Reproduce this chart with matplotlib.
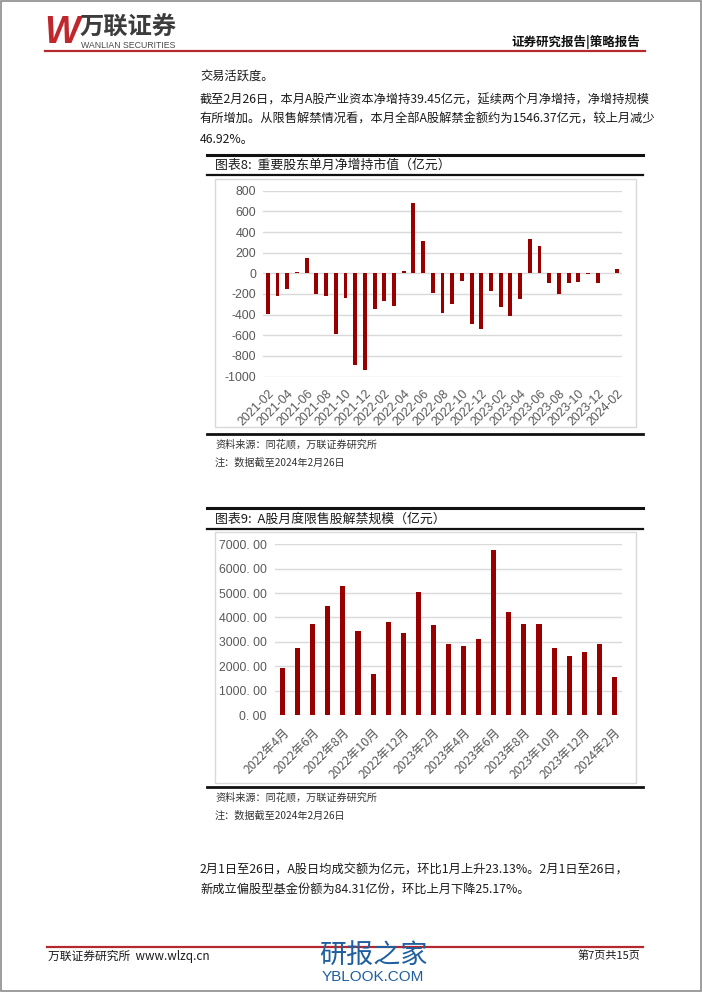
import matplotlib.pyplot as plt
from matplotlib.patches import Rectangle
from matplotlib.lines import Line2D

plt.rcParams['font.family'] = ['Noto Sans CJK SC', 'DejaVu Sans']

# 图表8: 重要股东单月净增持市值（亿元）
holder_months = [
    "2021-02", "2021-03", "2021-04", "2021-05", "2021-06", "2021-07", "2021-08",
    "2021-09", "2021-10", "2021-11", "2021-12", "2022-01", "2022-02", "2022-03",
    "2022-04", "2022-05", "2022-06", "2022-07", "2022-08", "2022-09", "2022-10",
    "2022-11", "2022-12", "2023-01", "2023-02", "2023-03", "2023-04", "2023-05",
    "2023-06", "2023-07", "2023-08", "2023-09", "2023-10", "2023-11", "2023-12",
    "2024-01", "2024-02",
]
holder_values = [
    -390, -220, -150, 15, 150, -200, -220, -590, -240, -890, -940, -350, -270,
    -320, 20, 680, 315, -195, -380, -300, -70, -490, -540, -170, -330, -410,
    -250, 335, 260, -95, -200, -95, -85, -2, -95, 5, 39.45,
]
holder_yticks = [-1000, -800, -600, -400, -200, 0, 200, 400, 600, 800]

# 图表9: A股月度限售股解禁规模（亿元）
unlock_months = [
    "2022年4月", "2022年5月", "2022年6月", "2022年7月", "2022年8月", "2022年9月",
    "2022年10月", "2022年11月", "2022年12月", "2023年1月", "2023年2月", "2023年3月",
    "2023年4月", "2023年5月", "2023年6月", "2023年7月", "2023年8月", "2023年9月",
    "2023年10月", "2023年11月", "2023年12月", "2024年1月", "2024年2月",
]
unlock_values = [
    1930, 2730, 3750, 4460, 5290, 3430, 1680, 3820, 3370, 5050, 3700, 2930,
    2840, 3100, 6750, 4220, 3740, 3720, 2740, 2420, 2590, 2910, 1546.37,
]
unlock_yticks = [0, 1000, 2000, 3000, 4000, 5000, 6000, 7000]

W, H = 702, 992
BAR = "#980000"
GRID = "#d9d9d9"
TICK = "#595959"
RED_LINE = "#b5282e"
LATIN = ["Liberation Sans", "DejaVu Sans"]

fig = plt.figure(figsize=(W / 100, H / 100), dpi=100)
fig.patch.set_facecolor("white")


def ftext(x, y, s, **kw):
    kw.setdefault("va", "center")
    return fig.text(x / W, 1 - y / H, s, **kw)


def hline(x0, x1, y, **kw):
    fig.add_artist(Line2D([x0 / W, x1 / W], [1 - y / H, 1 - y / H], **kw))


def box(x0, y0, x1, y1, **kw):
    fig.add_artist(Rectangle((x0 / W, 1 - y1 / H), (x1 - x0) / W, (y1 - y0) / H,
                             transform=fig.transFigure, **kw))


def px_axes(x0, y0, x1, y1):
    return fig.add_axes([x0 / W, 1 - y1 / H, (x1 - x0) / W, (y1 - y0) / H])


# page border
box(1, 1, W - 1, H - 1, fill=False, edgecolor="#8c8c8c", linewidth=1.2)

# header
ftext(44, 33, "W", fontsize=27, fontweight="bold", style="italic", color="#c0272d",
      family=LATIN)
ftext(80, 28, "万联证券", fontsize=17.5, fontweight="bold", color="#3c3c3c")
ftext(81, 45, "WANLIAN SECURITIES", fontsize=6.3, color="#4a4a4a", family=LATIN)
ftext(640, 42, "证券研究报告|策略报告", fontsize=9, fontweight="bold", ha="right",
      color="#111111")
hline(45, 645, 51, color=RED_LINE, linewidth=1.6)

# body text
body = dict(fontsize=8.8, color="#1a1a1a")
ftext(200, 76, "交易活跃度。", **body)
ftext(200, 100, "截至2月26日，本月A股产业资本净增持39.45亿元，延续两个月净增持，净增持规模", **body)
ftext(200, 119.5, "有所增加。从限售解禁情况看，本月全部A股解禁金额约为1546.37亿元，较上月减少", **body)
ftext(200, 139, "46.92%。", **body)

src = dict(fontsize=7.3, style="italic", color="#333333")

# ---------- chart 8 ----------
hline(207, 643, 155, color="#111111", linewidth=2.2)
ftext(215, 165, "图表8:  重要股东单月净增持市值（亿元）", fontsize=9.3, color="#1a1a1a")
hline(207, 643, 175, color="#111111", linewidth=1.6)
box(215, 179, 636, 427, fill=False, edgecolor=GRID, linewidth=1)

ax1 = px_axes(263, 190.7, 622, 376.6)
x1 = range(len(holder_values))
ax1.bar(x1, holder_values, width=0.4, color=BAR, zorder=3)
ax1.set_xlim(-0.5, len(holder_values) - 0.5)
ax1.set_ylim(-1000, 800)
ax1.set_yticks(holder_yticks)
ax1.set_yticklabels([str(v) for v in holder_yticks])
ax1.set_xticks(list(x1)[::2])
ax1.set_xticklabels(holder_months[::2], rotation=45, ha="right", rotation_mode="anchor")
ax1.grid(axis="y", color=GRID, linewidth=1, zorder=0)
for s in ax1.spines.values():
    s.set_visible(False)
ax1.tick_params(length=0, labelsize=8.9, colors=TICK, pad=5)
ax1.tick_params(axis="x", pad=8)
for lab in ax1.get_yticklabels() + ax1.get_xticklabels():
    lab.set_family(LATIN)

hline(207, 643, 434, color="#111111", linewidth=2)
ftext(215, 444, "资料来源：同花顺，万联证券研究所", **src)
ftext(215, 463, "注：数据截至2024年2月26日", **src)

# ---------- chart 9 ----------
hline(207, 643, 508, color="#111111", linewidth=2.2)
ftext(215, 519, "图表9:  A股月度限售股解禁规模（亿元）", fontsize=9.3, color="#1a1a1a")
hline(207, 643, 529, color="#111111", linewidth=1.6)
box(215, 532, 636, 783, fill=False, edgecolor=GRID, linewidth=1)

ax2 = px_axes(275, 544.3, 622, 715)
x2 = range(len(unlock_values))
ax2.bar(x2, unlock_values, width=0.34, color=BAR, zorder=3)
ax2.set_xlim(-0.5, len(unlock_values) - 0.5)
ax2.set_ylim(0, 7000)
ax2.set_yticks(unlock_yticks)
ax2.set_yticklabels([f"{v:.2f}".replace(".", ". ") for v in unlock_yticks])
ax2.set_xticks(list(x2)[::2])
ax2.set_xticklabels(unlock_months[::2], rotation=45, ha="right", rotation_mode="anchor")
ax2.grid(axis="y", color=GRID, linewidth=1, zorder=0)
for s in ax2.spines.values():
    s.set_visible(False)
ax2.tick_params(length=0, labelsize=8.8, colors=TICK, pad=6)
ax2.tick_params(axis="x", pad=8)
for lab in ax2.get_yticklabels():
    lab.set_family(LATIN)

hline(207, 643, 787, color="#111111", linewidth=2)
ftext(215, 797, "资料来源：同花顺，万联证券研究所", **src)
ftext(215, 816, "注：数据截至2024年2月26日", **src)

# closing paragraph
ftext(200, 870, "2月1日至26日，A股日均成交额为亿元，环比1月上升23.13%。2月1日至26日，", **body)
ftext(200, 890, "新成立偏股型基金份额为84.31亿份，环比上月下降25.17%。", **body)

# footer
hline(47, 643, 947, color=RED_LINE, linewidth=1.6)
ftext(48, 956, "万联证券研究所  www.wlzq.cn", fontsize=8.5, color="#1a1a1a")
ftext(640, 956, "第7页共15页", fontsize=8, ha="right", color="#1a1a1a")
ftext(319, 955, "研报之家", fontsize=19.5, fontweight="medium", color="#1f5f9e")
ftext(322, 977, "YBLOOK.COM", fontsize=11, color="#1f5f9e", family=LATIN)

fig.savefig("out.png", dpi=100)
